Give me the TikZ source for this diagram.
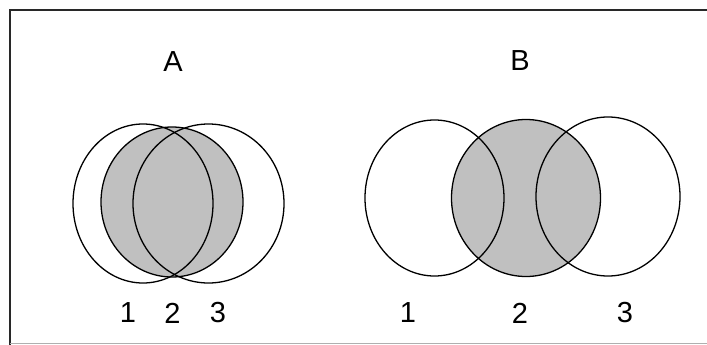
\documentclass[tikz,border=0pt]{standalone}
\usepackage{fontspec}
\setmainfont{Liberation Sans}
\begin{document}
\begin{tikzpicture}[x=1pt,y=-1pt,
  ring/.style={draw=black,line width=1.3pt},
  shade/.style={fill={rgb,255:red,192;green,192;blue,192}},
  lbl/.style={font=\fontsize{29}{34}\selectfont,inner sep=0pt,anchor=center},
  frame/.style={line width=2pt,draw={rgb,255:red,40;green,40;blue,40}}]
\useasboundingbox (0,0) rectangle (707,345);
% frame
\draw[frame] (10,345) -- (10,10) -- (707,10);
\draw[line width=1.5pt,draw={rgb,255:red,175;green,175;blue,175}] (10,343.5) -- (707,343.5);
% group A
\fill[shade] (172,202) ellipse [x radius=71, y radius=75];
\draw[ring] (143,203.5) ellipse [x radius=70, y radius=79.5];
\draw[ring] (172,202) ellipse [x radius=71, y radius=75];
\draw[ring] (208.5,203.5) ellipse [x radius=75.5, y radius=79.5];
% group B
\fill[shade] (526,198) ellipse [x radius=74.5, y radius=78.5];
\draw[ring] (434.5,198) ellipse [x radius=69.5, y radius=78];
\draw[ring] (526,198) ellipse [x radius=74.5, y radius=78.5];
\draw[ring] (608,196.5) ellipse [x radius=72, y radius=79.5];
% labels
\node[lbl] (tA) at (173,62) {A};
\node[lbl] (tB) at (520,61) {B};
\node[lbl] (a1) at (128,313) {1};
\node[lbl] (a2) at (172.5,313) {2};
\node[lbl] (a3) at (218,313) {3};
\node[lbl] (b1) at (408,313) {1};
\node[lbl] (b2) at (520,313) {2};
\node[lbl] (b3) at (625,313) {3};
\end{tikzpicture}
\end{document}
